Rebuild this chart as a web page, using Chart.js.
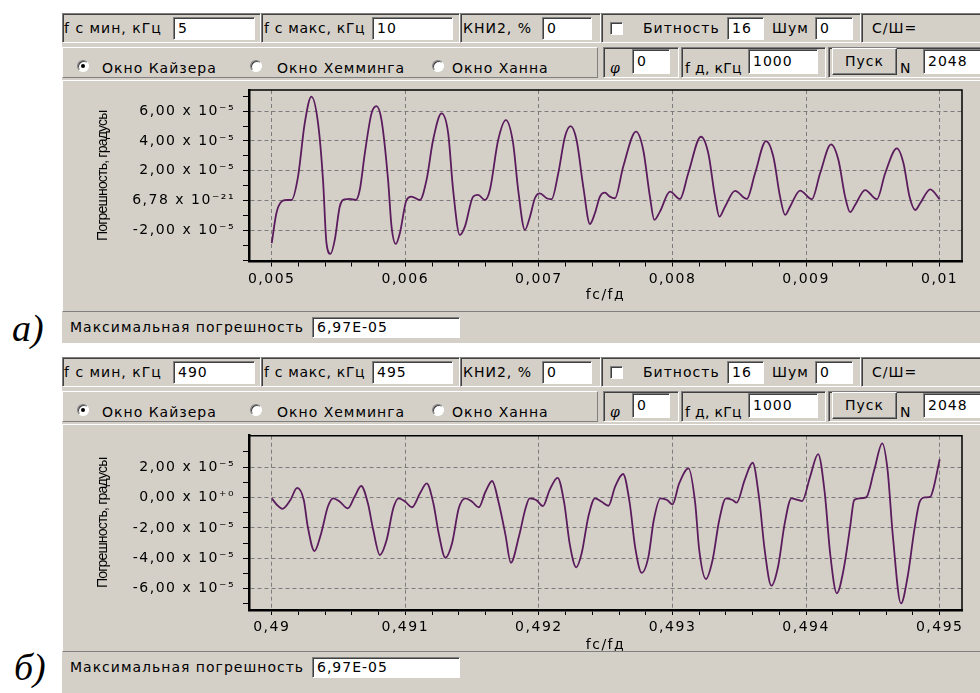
<!DOCTYPE html>
<html lang="ru">
<head>
<meta charset="utf-8">
<title>Погрешность, градусы</title>
<script src="https://cdn.jsdelivr.net/npm/chart.js@4.4.1/dist/chart.umd.min.js"></script>
<style>
  html, body { margin: 0; padding: 0; background: #fff; }
  body {
    position: relative; width: 980px; height: 693px; overflow: hidden;
    font-family: 'DejaVu Sans', sans-serif; font-size: 14px; letter-spacing: 1px; color: #000;
  }
  .win { position: absolute; left: 62px; width: 930px; background: #d4d0c8; }
  .win div, .win span, .win canvas { position: absolute; box-sizing: border-box; }
  .sunk { border: 1px solid; border-color: #808080 #fff #fff #808080; box-shadow: inset 1px 1px 0 #404040; }
  .raised { border: 1px solid; border-color: #fff #808080 #808080 #fff; }
  .edit { background: #fff; padding-left: 4px; line-height: 21px; white-space: nowrap; overflow: hidden; }
  .lbl { line-height: 16px; white-space: nowrap; }
  .radio { width: 12px; height: 12px; border-radius: 50%; background: #fff; }
  .radio.on::after { content: ''; position: absolute; left: 3px; top: 3px; width: 4px; height: 4px; border-radius: 50%; background: #000; }
  .check { width: 13px; height: 13px; background: #fff; }
  .btn { border: 1px solid; border-color: #fff #404040 #404040 #fff; box-shadow: inset -1px -1px 0 #808080; text-align: center; line-height: 25px; }
  .phi { font-family: 'DejaVu Serif', serif; font-style: italic; }
  .tag { position: absolute; font-family: 'Liberation Serif', serif; font-style: italic; font-size: 38px; line-height: 38px; letter-spacing: 0; }
</style>
</head>
<body>
<div class="win" id="winA" style="top:13px;height:330px"></div>
<div class="tag" style="left:12px;top:309px">а)</div>
<div class="win" id="winB" style="top:357px;height:340px"></div>
<div class="tag" style="left:14px;top:648px">б)</div>

<script>
// --- a) fc = 5...10 кГц ---
const fcA = [
  0.005, 0.005035, 0.005073, 0.00511, 0.005148, 0.005197, 0.005247, 0.005297, 0.005347, 0.005384,
  0.00541, 0.00544, 0.005472, 0.005509, 0.005547, 0.005584, 0.005629, 0.005659, 0.005697, 0.005747,
  0.005784, 0.005822, 0.005871, 0.005897, 0.005929, 0.005959, 0.006009, 0.006046, 0.006109, 0.006159,
  0.006208, 0.006271, 0.006321, 0.006358, 0.006408, 0.006446, 0.006508, 0.006545, 0.006596, 0.006633,
  0.006695, 0.006753, 0.006807, 0.006845, 0.006895, 0.006933, 0.00697, 0.007007, 0.007058, 0.007095,
  0.007145, 0.007195, 0.007237, 0.007282, 0.007332, 0.007382, 0.007419, 0.007457, 0.007494, 0.007531,
  0.007569, 0.007631, 0.007727, 0.007781, 0.007831, 0.007864, 0.007906, 0.007981, 0.008056, 0.008118,
  0.008213, 0.008268, 0.008318, 0.008351, 0.008393, 0.008468, 0.008556, 0.008618, 0.0087, 0.008755,
  0.008805, 0.008843, 0.00888, 0.008955, 0.009043, 0.009105, 0.009187, 0.009242, 0.009292, 0.00933,
  0.009367, 0.009442, 0.00953, 0.009592, 0.00968, 0.009729, 0.009774, 0.009817, 0.009854, 0.009929,
  0.01
];
const errA = [
  -2.87e-5, -0.86e-5, -0.08e-5, 0.03e-5, 0.03e-5, 1.6e-5, 5.18e-5, 6.97e-5, 5.18e-5, 1.38e-5,
  -2.87e-5, -3.59e-5, -2.65e-5, -0.42e-5, 0.08e-5, 0.1e-5, 0.03e-5, 0.7e-5, 3.17e-5, 5.85e-5,
  6.34e-5, 5.4e-5, 1.38e-5, -1.76e-5, -2.92e-5, -2.2e-5, 0.03e-5, 0.26e-5, 0.03e-5, 1.38e-5,
  4.06e-5, 5.85e-5, 4.51e-5, 0.7e-5, -2.32e-5, -1.76e-5, 0.26e-5, 0.37e-5, 0.03e-5, 0.7e-5,
  4.06e-5, 5.4e-5, 3.84e-5, 0.7e-5, -1.98e-5, -1.09e-5, 0.15e-5, 0.48e-5, 0.15e-5, 0.08e-5,
  1.83e-5, 4.28e-5, 5.0e-5, 4.06e-5, 0.93e-5, -1.58e-5, -0.86e-5, 0.26e-5, 0.52e-5, 0.26e-5,
  0.15e-5, 2.27e-5, 4.62e-5, 3.39e-5, 0.26e-5, -1.31e-5, -0.75e-5, 0.59e-5, 0.1e-5, 1.83e-5,
  4.28e-5, 3.17e-5, 0.26e-5, -1.09e-5, -0.42e-5, 0.64e-5, 0.1e-5, 1.83e-5, 3.99e-5, 2.94e-5,
  0.26e-5, -0.97e-5, -0.42e-5, 0.66e-5, 0.08e-5, 1.83e-5, 3.77e-5, 2.72e-5, 0.26e-5, -0.79e-5,
  -0.3e-5, 0.7e-5, 0.08e-5, 1.83e-5, 3.5e-5, 2.5e-5, 0.26e-5, -0.64e-5, -0.19e-5, 0.75e-5,
  0.08e-5
];
const xTicksA = [0.005, 0.006, 0.007, 0.008, 0.009, 0.01];
const xTickLabelsA = ['0,005', '0,006', '0,007', '0,008', '0,009', '0,01'];
const yTicksA = [-2e-5, 6.78e-21, 2e-5, 4e-5, 6e-5];
const yTickLabelsA = ['-2,00 x 10⁻⁵', '6,78 x 10⁻²¹', '2,00 x 10⁻⁵', '4,00 x 10⁻⁵', '6,00 x 10⁻⁵'];
const yMinorA = [-4e-5, -3e-5, -1e-5, 1e-5, 3e-5, 5e-5, 7e-5];

// --- б) fc = 490...495 кГц ---
const fcB = [
  0.49, 0.49004, 0.49008, 0.49014, 0.49019, 0.49024, 0.49027, 0.49032, 0.49037, 0.49042,
  0.49046, 0.49051, 0.49057, 0.49062, 0.49067, 0.49072, 0.49076, 0.49081, 0.49086, 0.49091,
  0.49095, 0.491, 0.49105, 0.49111, 0.49116, 0.49121, 0.49125, 0.4913, 0.49135, 0.4914,
  0.49145, 0.4915, 0.49155, 0.4916, 0.49165, 0.4917, 0.49175, 0.49179, 0.49185, 0.4919,
  0.49193, 0.49198, 0.49203, 0.49208, 0.49214, 0.49219, 0.49223, 0.49228, 0.49232, 0.49237,
  0.49242, 0.49247, 0.49252, 0.49257, 0.49263, 0.49268, 0.49272, 0.49277, 0.49282, 0.49286,
  0.49291, 0.49296, 0.493, 0.49305, 0.49312, 0.49317, 0.4932, 0.49325, 0.4933, 0.49335,
  0.4934, 0.49345, 0.49348, 0.49354, 0.4936, 0.49365, 0.49369, 0.49374, 0.49379, 0.49384,
  0.49389, 0.49394, 0.49397, 0.49403, 0.49409, 0.49414, 0.49418, 0.49423, 0.49428, 0.49433,
  0.49436, 0.4944, 0.49445, 0.49451, 0.49457, 0.49461, 0.49465, 0.49471, 0.49476, 0.49481,
  0.49485, 0.49489, 0.49493, 0.49495, 0.495
];
const errB = [
  -0.05e-5, -0.49e-5, -0.74e-5, -0.16e-5, 0.64e-5, -0.16e-5, -1.92e-5, -3.52e-5, -2.36e-5, -0.61e-5,
  -0.05e-5, -0.28e-5, -0.71e-5, 0.05e-5, 0.76e-5, -0.38e-5, -2.14e-5, -3.78e-5, -2.8e-5, -0.71e-5,
  -0.05e-5, -0.28e-5, -0.64e-5, 0.28e-5, 0.93e-5, -0.38e-5, -2.36e-5, -3.96e-5, -3.01e-5, -0.71e-5,
  -0.05e-5, -0.28e-5, -0.64e-5, 0.38e-5, 1.09e-5, -0.38e-5, -2.47e-5, -4.29e-5, -2.58e-5, -0.71e-5,
  -0.05e-5, -0.16e-5, -0.56e-5, 0.49e-5, 1.3e-5, -0.38e-5, -3.01e-5, -4.59e-5, -3.67e-5, -1.26e-5,
  -0.05e-5, -0.28e-5, -0.54e-5, 0.71e-5, 1.55e-5, -0.38e-5, -3.24e-5, -4.95e-5, -3.89e-5, -1.48e-5,
  -0.05e-5, -0.16e-5, -0.45e-5, 0.93e-5, 1.92e-5, -0.38e-5, -3.45e-5, -5.36e-5, -4.11e-5, -1.48e-5,
  -0.05e-5, -0.16e-5, -0.34e-5, 1.15e-5, 2.29e-5, -0.16e-5, -3.45e-5, -5.8e-5, -4.55e-5, -1.7e-5,
  -0.05e-5, -0.16e-5, -0.23e-5, 1.37e-5, 2.86e-5, 0.28e-5, -3.67e-5, -6.3e-5, -4.77e-5, -1.92e-5,
  -0.16e-5, -0.05e-5, 0.01e-5, 1.81e-5, 3.57e-5, 1.81e-5, -2.58e-5, -6.97e-5, -5.21e-5, -2.14e-5,
  -0.28e-5, 0.01e-5, 0.05e-5, 0.49e-5, 2.51e-5
];
const xTicksB = [0.49, 0.491, 0.492, 0.493, 0.494, 0.495];
const xTickLabelsB = ['0,49', '0,491', '0,492', '0,493', '0,494', '0,495'];
const yTicksB = [-6e-5, -4e-5, -2e-5, 0, 2e-5];
const yTickLabelsB = ['-6,00 x 10⁻⁵', '-4,00 x 10⁻⁵', '-2,00 x 10⁻⁵', '0,00 x 10⁺⁰', '2,00 x 10⁻⁵'];
const yMinorB = [-7e-5, -5e-5, -3e-5, -1e-5, 1e-5, 3e-5];

const maxError = '6,97E-05';

// Form controls around each plot
function windowHtml(fMin, fMax, panelHeight, statusTop, canvasId, canvasHeight) {
  return `
    <div class="sunk" style="left:0;top:0;width:199px;height:30px"></div>
    <div class="sunk" style="left:199px;top:0;width:199px;height:30px"></div>
    <div class="sunk" style="left:398px;top:0;width:141px;height:30px"></div>
    <div class="sunk" style="left:539px;top:0;width:260px;height:30px"></div>
    <div class="sunk" style="left:799px;top:0;width:131px;height:30px"></div>
    <span class="lbl" style="left:2px;top:7px">f c мин, кГц</span>
    <div class="sunk edit" style="left:111px;top:4px;width:82px;height:23px">${fMin}</div>
    <span class="lbl" style="left:202px;top:7px;letter-spacing:0.7px">f c макс, кГц</span>
    <div class="sunk edit" style="left:310px;top:4px;width:81px;height:23px">${fMax}</div>
    <span class="lbl" style="left:401px;top:7px">КНИ2, %</span>
    <div class="sunk edit" style="left:480px;top:4px;width:50px;height:23px">0</div>
    <div class="sunk check" style="left:548px;top:9px"></div>
    <span class="lbl" style="left:581px;top:7px">Битность</span>
    <div class="sunk edit" style="left:665px;top:4px;width:37px;height:23px">16</div>
    <span class="lbl" style="left:710px;top:7px">Шум</span>
    <div class="sunk edit" style="left:753px;top:4px;width:38px;height:23px">0</div>
    <span class="lbl" style="left:810px;top:7px">С/Ш=</span>

    <div class="raised" style="left:0;top:34px;width:536px;height:31px"></div>
    <div class="sunk radio on" style="left:15px;top:47px"></div>
    <span class="lbl" style="left:40px;top:47px">Окно Кайзера</span>
    <div class="sunk radio" style="left:188px;top:47px"></div>
    <span class="lbl" style="left:215px;top:47px">Окно Хемминга</span>
    <div class="sunk radio" style="left:370px;top:47px"></div>
    <span class="lbl" style="left:390px;top:47px">Окно Ханна</span>
    <div class="sunk" style="left:541px;top:34px;width:76px;height:31px"></div>
    <span class="lbl phi" style="left:548px;top:47px">φ</span>
    <div class="sunk edit" style="left:570px;top:36px;width:38px;height:25px;line-height:23px">0</div>
    <div class="sunk" style="left:619px;top:34px;width:145px;height:31px"></div>
    <span class="lbl" style="left:623px;top:47px;letter-spacing:0.3px">f д, кГц</span>
    <div class="sunk edit" style="left:686px;top:36px;width:70px;height:25px;line-height:23px">1000</div>
    <div class="sunk" style="left:766px;top:34px;width:170px;height:31px"></div>
    <div class="btn" style="left:770px;top:35px;width:65px;height:27px">Пуск</div>
    <span class="lbl" style="left:838px;top:47px">N</span>
    <div class="sunk edit" style="left:861px;top:36px;width:70px;height:25px;line-height:23px">2048</div>

    <div class="raised" style="left:0;top:67px;width:930px;height:${panelHeight}px"></div>
    <canvas id="${canvasId}" width="916" height="${canvasHeight}" style="left:1px;top:68px"></canvas>
    <span class="lbl" style="left:8px;top:${statusTop + 6}px">Максимальная погрешность</span>
    <div class="sunk edit" style="left:250px;top:${statusTop + 4}px;width:148px;height:21px;line-height:19px">${maxError}</div>
  `;
}

document.getElementById('winA').innerHTML = windowHtml(5, 10, 232, 300, 'chartA', 229);
document.getElementById('winB').innerHTML = windowHtml(490, 495, 228, 296, 'chartB', 232);

// Wide bitmap-like spacing for canvas text, condensed for the vertical title
const textSpacing = {
  id: 'textSpacing',
  beforeUpdate(chart) {
    chart.ctx.letterSpacing = '1.5px';
  },
  beforeDraw(chart) {
    chart.ctx.letterSpacing = '1.5px';
    const y = chart.scales.y;
    if (!y.$condensedTitle) {
      const drawTitle = y.drawTitle;
      y.drawTitle = function () {
        this.ctx.save();
        this.ctx.letterSpacing = '-0.8px';
        drawTitle.call(this);
        this.ctx.restore();
      };
      y.$condensedTitle = true;
    }
  }
};

// Top and right edges of the plot frame
const plotFrame = {
  id: 'plotFrame',
  afterDraw(chart) {
    const {ctx, chartArea: a} = chart;
    ctx.save();
    ctx.strokeStyle = '#000';
    ctx.lineWidth = 1.5;
    ctx.beginPath();
    ctx.moveTo(a.left, a.top);
    ctx.lineTo(a.right, a.top);
    ctx.lineTo(a.right, a.bottom);
    ctx.stroke();
    ctx.restore();
  }
};

function labelFor(values, labels, v) {
  const i = values.findIndex(t => Math.abs(t - v) < 1e-12);
  return i < 0 ? '' : labels[i];
}

function createChart(canvasId, d) {
  const step = (d.xTicks[1] - d.xTicks[0]) / 5;
  const allX = [];
  for (let i = 0; i <= (d.xTicks.length - 1) * 5; i++) {
    allX.push(d.xTicks[0] + i * step);
  }
  const allY = d.yTicks.concat(d.yMinor).sort((a, b) => a - b);

  const tickFont = { family: "'DejaVu Sans', sans-serif", size: 14 };
  const gridColor = (values, labels) => ctx =>
    ctx.tick && labelFor(values, labels, ctx.tick.value) !== '' ? '#7c7c7c' : 'rgba(0,0,0,0)';

  new Chart(document.getElementById(canvasId), {
    type: 'line',
    data: {
      datasets: [{
        data: d.fc.map((x, i) => ({ x: x, y: d.err[i] })),
        borderColor: '#5b1c5d',
        borderWidth: 1.8,
        pointRadius: 0,
        cubicInterpolationMode: 'monotone',
        fill: false
      }]
    },
    options: {
      responsive: false,
      animation: false,
      events: [],
      layout: { padding: { left: 24, top: d.padTop, right: 17, bottom: 0 } },
      plugins: {
        legend: { display: false },
        tooltip: { enabled: false }
      },
      scales: {
        x: {
          type: 'linear',
          min: d.xMin,
          max: d.xMax,
          afterBuildTicks: scale => { scale.ticks = allX.map(v => ({ value: v })); },
          afterFit: scale => {
            scale.height = d.xAxisHeight;
            scale.paddingLeft = scale.paddingRight = 0;
          },
          ticks: {
            autoSkip: false,
            maxRotation: 0,
            minRotation: 0,
            padding: 4,
            color: '#000',
            font: tickFont,
            callback: v => labelFor(d.xTicks, d.xTickLabels, v)
          },
          grid: {
            color: gridColor(d.xTicks, d.xTickLabels),
            tickColor: '#000',
            tickLength: 5,
            lineWidth: 1
          },
          border: { color: '#000', width: 2.5, dash: [4, 3] },
          title: {
            display: true,
            text: 'fc/fд',
            color: '#000',
            font: tickFont,
            padding: { top: 0, bottom: d.xTitlePad }
          }
        },
        y: {
          type: 'linear',
          min: d.yMin,
          max: d.yMax,
          afterBuildTicks: scale => { scale.ticks = allY.map(v => ({ value: v })); },
          afterFit: scale => {
            scale.width = 162;
            scale.paddingTop = scale.paddingBottom = 0;
          },
          ticks: {
            autoSkip: false,
            padding: 8,
            color: '#000',
            font: tickFont,
            callback: v => labelFor(d.yTicks, d.yTickLabels, v)
          },
          grid: {
            color: gridColor(d.yTicks, d.yTickLabels),
            tickColor: '#000',
            tickLength: 6,
            lineWidth: 1
          },
          border: { color: '#000', width: 2.5, dash: [4, 3] },
          title: {
            display: true,
            text: 'Погрешность, градусы',
            color: '#000',
            font: { family: "'Liberation Sans', sans-serif", size: 14 },
            padding: { top: 8, bottom: 0 }
          }
        }
      }
    },
    plugins: [textSpacing, plotFrame]
  });
}

createChart('chartA', {
  fc: fcA, err: errA,
  xTicks: xTicksA, xTickLabels: xTickLabelsA,
  yTicks: yTicksA, yTickLabels: yTickLabelsA, yMinor: yMinorA,
  xMin: 0.00483, xMax: 0.010167, yMin: -4.1e-5, yMax: 7.42e-5,
  padTop: 9, xAxisHeight: 48.5, xTitlePad: 6.6
});

createChart('chartB', {
  fc: fcB, err: errB,
  xTicks: xTicksB, xTickLabels: xTickLabelsB,
  yTicks: yTicksB, yTickLabels: yTickLabelsB, yMinor: yMinorB,
  xMin: 0.48983, xMax: 0.495167, yMin: -7.4e-5, yMax: 4.07e-5,
  padTop: 10.7, xAxisHeight: 47, xTitlePad: 3.6
});
</script>
</body>
</html>
